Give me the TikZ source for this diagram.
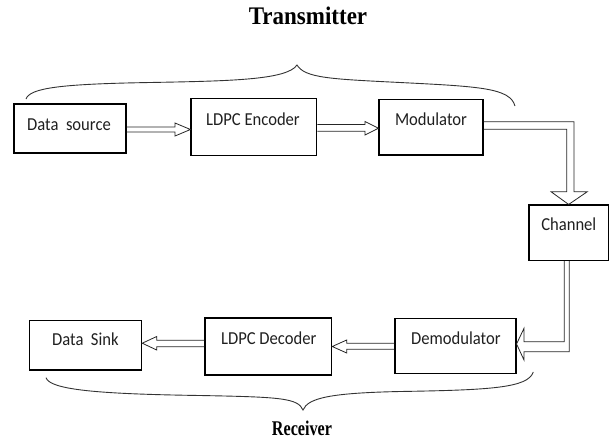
\documentclass[tikz,border=0pt]{standalone}
\usepackage{fontspec}
\usepackage{graphicx}
\setmainfont{Liberation Serif}
\newfontfamily\lblfont{Carlito}
\usetikzlibrary{calc}
\begin{document}
\begin{tikzpicture}[x=1pt,y=-1pt,
  box/.style={draw=black,line width=1.1pt,inner sep=0pt},
  lbl/.style={anchor=base,inner sep=0pt,text=black!88,font=\lblfont\fontsize{16.6}{20}\selectfont},
  ttl/.style={anchor=base,inner sep=0pt,font=\bfseries\fontsize{23}{26}\selectfont},
  barrow/.style={draw=black!85,line width=0.8pt,line join=miter},
  brace/.style={draw=black!80,line width=0.9pt}]
\useasboundingbox (0,0) rectangle (614,440);

% boxes
\node[box,minimum width=112pt,minimum height=49pt] (ds) at (70,128.5) {};
\node[box,minimum width=125.7pt,minimum height=57.4pt] (enc) at (253.85,127) {};
\node[box,minimum width=104pt,minimum height=55.7pt] (mod) at (431,127.15) {};
\node[box,minimum width=79.3pt,minimum height=55.5pt] (ch) at (568.65,232.75) {};
\node[box,minimum width=121pt,minimum height=55pt] (dem) at (455.5,345.8) {};
\node[box,minimum width=126.7pt,minimum height=57pt] (dec) at (268.35,346.5) {};
\node[box,minimum width=112.4pt,minimum height=49.3pt] (sink) at (85.5,345.35) {};

% labels
\node[lbl] (tds) at (69,130) {\scalebox{1}[1.1]{Data\ \ source}};
\node[lbl] (tenc) at (253,125.7) {\scalebox{1}[1.1]{LDPC Encoder}};
\node[lbl] (tmod) at (431,125.7) {\scalebox{1}[1.1]{Modulator}};
\node[lbl] (tch) at (568.8,230.7) {\scalebox{1}[1.1]{Channel}};
\node[lbl] (tdem) at (455.9,344) {\scalebox{1}[1.1]{Demodulator}};
\node[lbl] (tdec) at (268.7,344) {\scalebox{1}[1.1]{LDPC Decoder}};
\node[lbl] (tsink) at (85.4,345.7) {\scalebox{1}[1.1]{Data\ \ Sink}};

% titles
\node[ttl] (ttx) at (308,24) {\scalebox{1}[1.1]{Transmitter}};
\node[anchor=base,inner sep=0pt,font=\bfseries\fontsize{19}{22}\selectfont] (rcv) at (302,435) {\scalebox{0.85}[1.1]{Receiver}};

% block arrows
\draw[barrow] (ds.east |- 0,127) -- (175,127) -- (175,123) -- (enc.west |- 0,129.5)
  -- (175,136) -- (175,132) -- (ds.east |- 0,132);
\draw[barrow] (enc.east |- 0,124.5) -- (365,124.5) -- (365,121.5) -- (mod.west |- 0,128.2)
  -- (365,135) -- (365,131.2) -- (enc.east |- 0,131.2);
\draw[barrow] (mod.east |- 0,121.7) -- (574,121.7) -- (574,191.7) -- (587.3,191.7)
  -- (ch.north) -- (551,191.7) -- (566.7,191.7) -- (566.7,129.3) -- (mod.east |- 0,129.3);
\draw[barrow] (564.3,0 |- ch.south) -- (564.3,341.7) -- (524,341.7) -- (524,328.3)
  -- (dem.east |- 0,344) -- (524,360) -- (524,351.7) -- (569.3,351.7) -- (569.3,0 |- ch.south);
\draw[barrow] (dem.west |- 0,343.3) -- (346.7,343.3) -- (346.7,340) -- (dec.east |- 0,346.5)
  -- (346.7,353) -- (346.7,349.3) -- (dem.west |- 0,349.3);
\draw[barrow] (dec.west |- 0,340.3) -- (156.7,340.3) -- (156.7,336.5) -- (sink.east |- 0,343.2)
  -- (156.7,350) -- (156.7,346.7) -- (dec.west |- 0,346.7);

% braces
\draw[brace] (26,99) .. controls (30,88) and (60,84) .. (150,82.5)
  .. controls (230,81) and (287,80) .. (297,65)
  .. controls (305,78) and (330,79) .. (400,82.5)
  .. controls (480,86.5) and (510,88) .. (515,106);
\draw[brace] (46,377.7) .. controls (50,390) and (100,394) .. (200,395.5)
  .. controls (280,397) and (298,398) .. (303,410)
  .. controls (308,398) and (330,393) .. (400,391.5)
  .. controls (490,390) and (528,388) .. (533.3,372);
\end{tikzpicture}
\end{document}
